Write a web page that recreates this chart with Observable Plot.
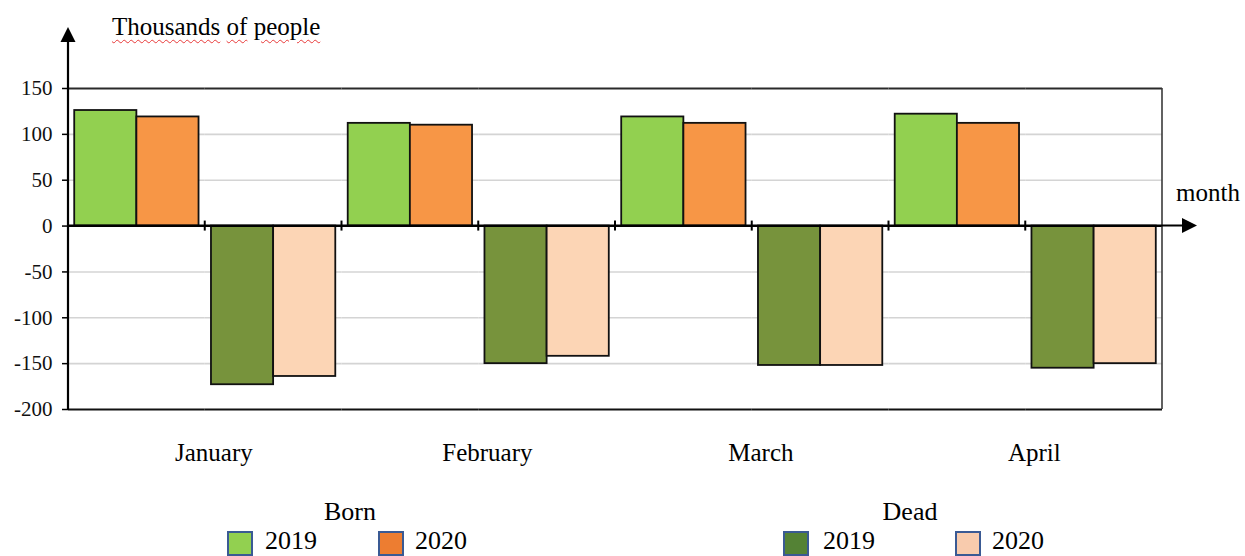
<!DOCTYPE html>
<html><head><meta charset="utf-8">
<script src="https://cdn.jsdelivr.net/npm/d3@7"></script>
<script src="https://cdn.jsdelivr.net/npm/@observablehq/plot@0.6"></script>
<style>
body{margin:0;background:#fff;font-family:"Liberation Serif","Times New Roman",serif;}
#wrap{position:relative;width:1245px;height:556px;overflow:hidden;background:#fff;}
#wrap svg{position:absolute;left:0;top:0;}
#wrap svg text{font-family:"Liberation Serif","Times New Roman",serif !important;font-variant:normal !important;}
.t{position:absolute;font-size:25px;line-height:25px;color:#000;white-space:nowrap;}
.lg{position:absolute;font-size:26px;line-height:26px;color:#000;white-space:nowrap;}
.w{text-decoration:underline wavy #e83a3a;text-decoration-thickness:1px;text-underline-offset:4px;}
.sw{position:absolute;width:26px;height:25px;border:2px solid #3a5a94;box-sizing:border-box;}
</style></head>
<body><div id="wrap"></div>
<script>
// ---- data ----
const months = ["January", "February", "March", "April"];
const groups = ["Born", "Dead"];
const years = ["2019", "2020"];
const born2019 = [126, 112, 119, 122];
const born2020 = [119, 110, 112, 112];
const dead2019 = [-173, -150, -152, -155];
const dead2020 = [-164, -142, -152, -150];
const yTicks = [150, 100, 50, 0, -50, -100, -150, -200];
const seriesNames = ["Born 2019", "Born 2020", "Dead 2019", "Dead 2020"];
const barColors = ["#92d050", "#f79646", "#77933c", "#fcd5b5"];
const legendColors = ["#92d050", "#ed7d31", "#548235", "#f8cbad"];

// ---- table ----
const data = [];
months.forEach((m, i) => {
  data.push({slot: m + "|Born", year: "2019", series: "Born 2019", value: born2019[i]});
  data.push({slot: m + "|Born", year: "2020", series: "Born 2020", value: born2020[i]});
  data.push({slot: m + "|Dead", year: "2019", series: "Dead 2019", value: dead2019[i]});
  data.push({slot: m + "|Dead", year: "2020", series: "Dead 2020", value: dead2020[i]});
});
const slots = months.flatMap(m => groups.map(g => m + "|" + g));

const W = 1245, H = 490, mL = 68, mR = 83, mT = 88, mB = 81;
const serif = "'Liberation Serif', 'Times New Roman', serif";

const plot = Plot.plot({
  width: W, height: H,
  marginLeft: mL, marginRight: mR, marginTop: mT, marginBottom: mB,
  style: {fontFamily: serif, background: "white", color: "#000", overflow: "visible"},
  fx: {domain: slots, paddingInner: 0, paddingOuter: 0, round: false, label: null, axis: null},
  x: {domain: years, paddingInner: 0, paddingOuter: 0.1, round: false, axis: null},
  y: {domain: [-200, 150], label: null},
  color: {domain: seriesNames, range: barColors},
  marks: [
    Plot.gridY(yTicks.filter(v => v !== 150 && v !== -200 && v !== 0), {stroke: "#d4d4d4", strokeOpacity: 1, strokeWidth: 1.6}),
    Plot.ruleY([150], {stroke: "#2a2a2a", strokeWidth: 2}),
    Plot.ruleY([-200], {stroke: "#111", strokeWidth: 2}),
    Plot.barY(data, {fx: "slot", x: "year", y: "value", fill: "series", stroke: "#111", strokeWidth: 1.8}),
    Plot.ruleY([0], {stroke: "#000", strokeWidth: 2}),
    Plot.axisY(yTicks, {tickSize: 6, tickPadding: 10, fontSize: 21, fontFamily: serif,
      label: null, stroke: "#000", strokeWidth: 1.5, tickFormat: d => String(d), fill: "#111"}),
    Plot.axisFx({anchor: "bottom", tickSize: 0, tickPadding: 34, fontSize: 25, fontFamily: serif, label: null, dx: 77,
      tickFormat: d => d.endsWith("|Born") ? d.split("|")[0] : ""})
  ]
});

// ---- decorations positioned through Plot's scales ----
const ys = plot.scale("y"), fs = plot.scale("fx");
const xL = fs.apply(slots[0]);
const xR = fs.apply(slots[slots.length - 1]) + fs.bandwidth;
const y0 = ys.apply(0), yTop = ys.apply(150), yBot = ys.apply(-200);
const g = d3.select(plot).append("g");
// right border
g.append("line").attr("x1", xR).attr("x2", xR).attr("y1", yTop).attr("y2", yBot)
  .attr("stroke", "#3a3a3a").attr("stroke-width", 1.6);
// boundary ticks on zero line
slots.slice(1).forEach(s => {
  const x = fs.apply(s);
  g.append("line").attr("x1", x).attr("x2", x).attr("y1", y0 - 5).attr("y2", y0 + 5)
    .attr("stroke", "#000").attr("stroke-width", 2);
});
// y axis with arrow
const tipY = yTop - 61;
g.append("line").attr("x1", xL).attr("x2", xL).attr("y1", yBot + 1).attr("y2", tipY + 8)
  .attr("stroke", "#000").attr("stroke-width", 2.2);
g.append("path").attr("d", `M${xL},${tipY} L${xL - 7.5},${tipY + 15} L${xL + 7.5},${tipY + 15} Z`).attr("fill", "#000");
// x axis with arrow
const tipX = xR + 35;
g.append("line").attr("x1", xL).attr("x2", tipX - 8).attr("y1", y0).attr("y2", y0)
  .attr("stroke", "#000").attr("stroke-width", 2);
g.append("path").attr("d", `M${tipX},${y0} L${tipX - 15},${y0 - 7.5} L${tipX - 15},${y0 + 7.5} Z`).attr("fill", "#000");
// "month" label
g.append("text").attr("x", xR + 14).attr("y", y0 - 25).attr("font-size", 25)
  .attr("text-anchor", "start").attr("font-family", serif).attr("fill", "#000").text("month");
d3.select(plot).selectAll("text").attr("font-family", serif);

const wrap = document.getElementById("wrap");
wrap.appendChild(plot);

// title
const title = document.createElement("div");
title.className = "t";
title.style.left = "112px"; title.style.top = "14px";
title.innerHTML = '<span class="w">Thousands</span> <span class="w">of</span> <span class="w">people</span>';
wrap.appendChild(title);

// legend
function addText(txt, left, top, center) {
  const d = document.createElement("div");
  d.className = "lg"; d.textContent = txt;
  d.style.top = top + "px";
  if (center) { d.style.left = (left - 100) + "px"; d.style.width = "200px"; d.style.textAlign = "center"; }
  else d.style.left = left + "px";
  wrap.appendChild(d);
}
function addSwatch(color, left, top) {
  const d = document.createElement("div");
  d.className = "sw"; d.style.background = color;
  d.style.left = left + "px"; d.style.top = top + "px";
  wrap.appendChild(d);
}
addText(groups[0], 350, 499, true);
addText(groups[1], 910, 499, true);
addSwatch(legendColors[0], 227, 531); addText(years[0], 265, 528);
addSwatch(legendColors[1], 378, 531); addText(years[1], 415, 528);
addSwatch(legendColors[2], 783, 531); addText(years[0], 823, 528);
addSwatch(legendColors[3], 955, 531); addText(years[1], 992, 528);
</script>
</body></html>
